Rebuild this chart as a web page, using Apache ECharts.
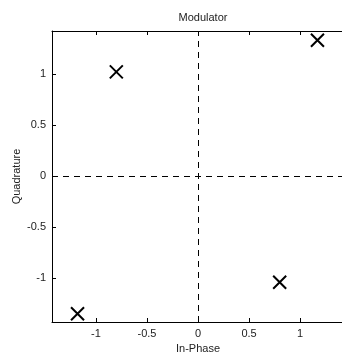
<!DOCTYPE html>
<html><head><meta charset="utf-8">
<script src="https://cdn.jsdelivr.net/npm/echarts@6/dist/echarts.min.js"></script>
<style>html,body{margin:0;padding:0;background:#fff}#c{width:342px;height:353px}</style>
</head><body><div id="c"></div>
<script>
const inPhase = [-0.80, 1.17, 0.80, -1.18];
const quadrature = [1.02, 1.33, -1.04, -1.35];
const tickValues = [-1, -0.5, 0, 0.5, 1];
const titleText = 'Modulator';
const xName = 'In-Phase';
const yName = 'Quadrature';

const font = 'Liberation Sans, Arial, sans-serif';
const chart = echarts.init(document.getElementById('c'));
const axisCommon = {
  type: 'value', min: -1.43, max: 1.43,
  axisLine: {show: true, onZero: false, lineStyle: {color: '#000', width: 1}},
  axisTick: {show: true, inside: true, length: 4, customValues: tickValues, lineStyle: {color: '#000'}},
  splitLine: {show: false},
  axisLabel: {customValues: tickValues, color: '#222', fontSize: 11, fontFamily: font,
    formatter: v => String(v)}
};
chart.setOption({
  animation: false,
  title: {text: titleText, left: 198, top: 7, textAlign: 'center',
    textStyle: {fontSize: 11, fontWeight: 'normal', color: '#222', fontFamily: font}},
  grid: {left: 52, top: 31, width: 292, height: 291, containLabel: false, outerBoundsMode: 'none'},
  xAxis: [
    Object.assign({}, axisCommon, {position: 'bottom', name: xName, nameLocation: 'middle', nameGap: 21,
      nameTextStyle: {fontSize: 11, color: '#222', fontFamily: font},
      axisLabel: Object.assign({}, axisCommon.axisLabel, {margin: 6})}),
    Object.assign({}, axisCommon, {position: 'top', axisLabel: {show: false}})
  ],
  yAxis: [
    Object.assign({}, axisCommon, {min: -1.43, max: 1.42, position: 'left', name: yName, nameLocation: 'middle',
      nameGap: 30, nameMoveOverlap: false,
      nameTextStyle: {fontSize: 11, color: '#222', fontFamily: font},
      axisLabel: Object.assign({}, axisCommon.axisLabel, {margin: 6})})
  ],
  series: [{
    type: 'scatter', xAxisIndex: 0, yAxisIndex: 0,
    data: inPhase.map((x, i) => [x, quadrature[i]]),
    symbol: 'path://M0,0L10,10M10,0L0,10',
    symbolSize: 13,
    itemStyle: {color: 'rgba(0,0,0,0)', borderColor: '#000', borderWidth: 2, opacity: 1},
    emphasis: {disabled: true},
    markLine: {
      silent: true, symbol: 'none', animation: false,
      label: {show: false},
      lineStyle: {color: '#000', type: [6, 5], width: 1},
      data: [{xAxis: 0}, {yAxis: 0}]
    }
  }]
});
</script></body></html>
